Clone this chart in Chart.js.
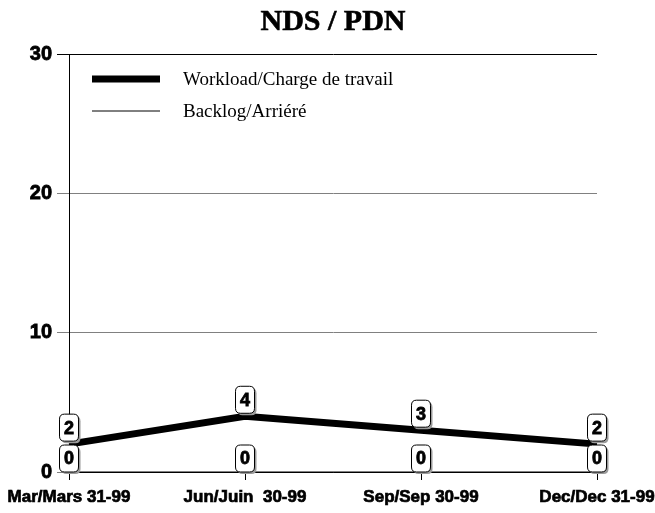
<!DOCTYPE html>
<html>
<head>
<meta charset="utf-8">
<script src="https://cdn.jsdelivr.net/npm/chart.js@4"></script>
<style>
  html, body { margin: 0; padding: 0; background: #fff; }
  #wrap { width: 655px; height: 513px; }
</style>
</head>
<body>
<div id="wrap"><canvas id="chart" width="655" height="513"></canvas></div>
<script>
// Quarter-end categories and counts
const quarters = ['Mar/Mars 31-99', 'Jun/Juin  30-99', 'Sep/Sep 30-99', 'Dec/Dec 31-99'];
const workload = [2, 4, 3, 2];
const backlog = [0, 0, 0, 0];
const yTicks = [0, 10, 20, 30];

const SANS = "'Liberation Sans', Arial, sans-serif";
const SERIF = "'Liberation Serif', 'Times New Roman', serif";

// Title centred over the plot area
const titlePlugin = {
  id: 'titleText',
  afterDraw(chart) {
    const { ctx, chartArea } = chart;
    ctx.save();
    ctx.fillStyle = '#000';
    ctx.strokeStyle = '#000';
    ctx.lineWidth = 0.6;
    ctx.font = 'bold 30px ' + SERIF;
    ctx.textAlign = 'center';
    ctx.textBaseline = 'middle';
    const cx = (chartArea.left + chartArea.right) / 2;
    ctx.fillText('NDS / PDN', cx, 22);
    ctx.strokeText('NDS / PDN', cx, 22);
    ctx.restore();
  }
};

// Legend drawn inside the plot, top left
const legendPlugin = {
  id: 'insideLegend',
  afterDraw(chart) {
    const { ctx } = chart;
    const items = [
      { text: 'Workload/Charge de travail', width: 7, y: 79 },
      { text: 'Backlog/Arriéré', width: 1, y: 111 }
    ];
    ctx.save();
    ctx.strokeStyle = '#000';
    ctx.fillStyle = '#000';
    ctx.font = '19px ' + SERIF;
    ctx.textBaseline = 'middle';
    items.forEach(it => {
      ctx.lineWidth = it.width;
      ctx.beginPath();
      ctx.moveTo(92, it.y);
      ctx.lineTo(160, it.y);
      ctx.stroke();
      ctx.fillText(it.text, 183, it.y + 1);
    });
    ctx.restore();
  }
};

// Boxed value labels sitting on top of each point
function roundRect(ctx, x, y, w, h, r) {
  ctx.beginPath();
  ctx.moveTo(x + r, y);
  ctx.lineTo(x + w - r, y);
  ctx.quadraticCurveTo(x + w, y, x + w, y + r);
  ctx.lineTo(x + w, y + h - r);
  ctx.quadraticCurveTo(x + w, y + h, x + w - r, y + h);
  ctx.lineTo(x + r, y + h);
  ctx.quadraticCurveTo(x, y + h, x, y + h - r);
  ctx.lineTo(x, y + r);
  ctx.quadraticCurveTo(x, y, x + r, y);
  ctx.closePath();
}

const valueBoxPlugin = {
  id: 'valueBoxes',
  afterDatasetsDraw(chart) {
    const { ctx } = chart;
    const w = 19, h = 27;
    ctx.save();
    chart.data.datasets.forEach((ds, di) => {
      const meta = chart.getDatasetMeta(di);
      const lift = di === 0 ? 3 : 0;
      meta.data.forEach((pt, i) => {
        const x = pt.x - w / 2;
        const y = pt.y - lift - h;
        // shadow
        ctx.fillStyle = '#9a9a9a';
        roundRect(ctx, x + 2, y + 2, w, h, 5);
        ctx.fill();
        ctx.fillStyle = '#fff';
        roundRect(ctx, x, y, w, h, 5);
        ctx.fill();
        ctx.lineWidth = 1;
        ctx.strokeStyle = '#000';
        ctx.stroke();
        ctx.fillStyle = '#000';
        ctx.strokeStyle = '#000';
        ctx.lineWidth = 0.8;
        ctx.font = 'bold 18px ' + SANS;
        ctx.textAlign = 'center';
        ctx.textBaseline = 'middle';
        ctx.fillText(String(ds.data[i]), pt.x, y + h / 2 + 1);
        ctx.strokeText(String(ds.data[i]), pt.x, y + h / 2 + 1);
      });
    });
    ctx.restore();
  }
};

new Chart(document.getElementById('chart'), {
  type: 'line',
  data: {
    labels: quarters,
    datasets: [
      {
        label: 'Workload/Charge de travail',
        data: workload,
        borderColor: '#000',
        borderWidth: 7,
        pointRadius: 0,
        tension: 0,
        clip: false
      },
      {
        label: 'Backlog/Arriéré',
        data: backlog,
        borderColor: '#000',
        borderWidth: 1,
        pointRadius: 0,
        tension: 0,
        clip: false
      }
    ]
  },
  options: {
    responsive: false,
    animation: false,
    devicePixelRatio: 1,
    layout: { padding: { top: 54, right: 58, bottom: 0, left: 0 } },
    plugins: {
      legend: { display: false },
      title: { display: false },
      tooltip: { enabled: false }
    },
    scales: {
      x: {
        offset: false,
        afterFit(scale) {
          scale.height = 41;
          scale.paddingLeft = 0;
          scale.paddingRight = 0;
        },
        grid: {
          drawOnChartArea: false,
          drawTicks: true,
          tickLength: 8,
          tickColor: '#000'
        },
        border: { color: '#000', width: 1 },
        ticks: {
          color: '#000',
          padding: 7,
          maxRotation: 0,
          autoSkip: false,
          textStrokeColor: '#000',
          textStrokeWidth: 0.7,
          font: { family: SANS, weight: 'bold', size: 17 }
        }
      },
      y: {
        min: 0,
        max: 30,
        afterFit(scale) { scale.width = 69; },
        afterBuildTicks(scale) { scale.ticks = yTicks.map(v => ({ value: v })); },
        grid: {
          color: ctx => (ctx.tick && ctx.tick.value === 30 ? '#000' : '#808080'),
          tickColor: ctx => (ctx.tick && ctx.tick.value === 30 ? '#000' : '#808080'),
          tickLength: 12
        },
        border: { color: '#000', width: 1 },
        ticks: {
          color: '#000',
          padding: 5,
          textStrokeColor: '#000',
          textStrokeWidth: 0.8,
          font: { family: SANS, weight: 'bold', size: 20 }
        }
      }
    }
  },
  plugins: [titlePlugin, legendPlugin, valueBoxPlugin]
});
</script>
</body>
</html>
